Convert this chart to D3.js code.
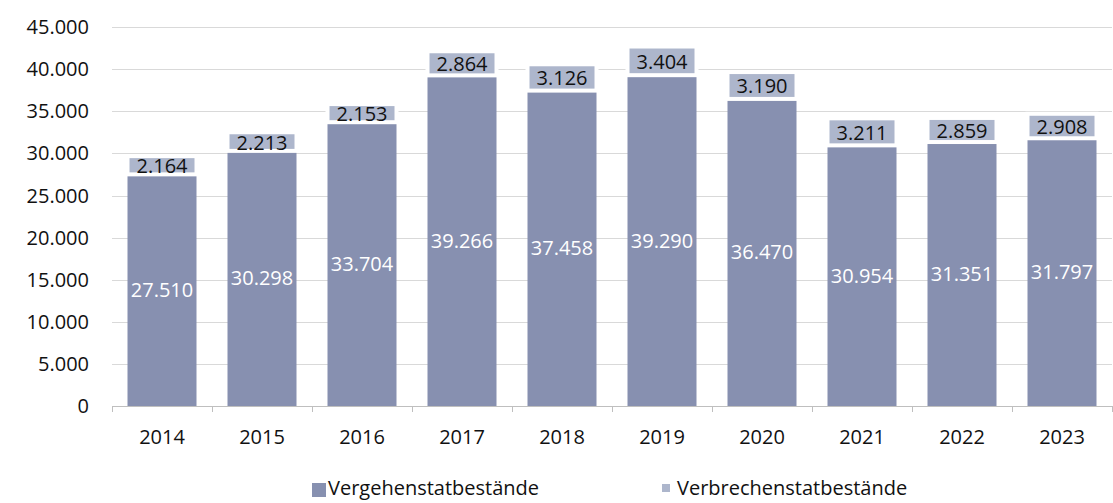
<!DOCTYPE html>
<html>
<head>
<meta charset="utf-8">
<script src="https://cdn.jsdelivr.net/npm/d3@7"></script>
<style>
  html, body { margin: 0; padding: 0; background: #fff; }
  svg { display: block; font-family: "Open Sans", "Noto Sans", sans-serif; }
</style>
</head>
<body>
<svg id="chart" width="1113" height="503"></svg>
<script>
const years = ["2014","2015","2016","2017","2018","2019","2020","2021","2022","2023"];
const vergehen = [27510, 30298, 33704, 39266, 37458, 39290, 36470, 30954, 31351, 31797];
const verbrechen = [2164, 2213, 2153, 2864, 3126, 3404, 3190, 3211, 2859, 2908];
const yTicks = [0, 5000, 10000, 15000, 20000, 25000, 30000, 35000, 40000, 45000];
const seriesNames = ["Vergehenstatbestände", "Verbrechenstatbestände"];
const colors = ["#8790b0", "#adb6cc"];
const FS = 20;

const svg = d3.select("#chart");
const fmt = v => d3.format(",")(v).replace(/,/g, ".");

const x = d3.scaleBand().domain(years).range([112, 1112]).paddingInner(0.31).paddingOuter(0.155);
const y = d3.scaleLinear().domain([0, 45000]).range([406, 27.1]);

// gridlines
svg.append("g").selectAll("line").data(yTicks.slice(1)).join("line")
  .attr("x1", 112).attr("x2", 1112)
  .attr("y1", d => Math.round(y(d)) + 0.5).attr("y2", d => Math.round(y(d)) + 0.5)
  .attr("stroke", "#d9d9d9").attr("stroke-width", 1);

// y labels
svg.append("g").selectAll("text").data(yTicks).join("text")
  .attr("x", 89).attr("y", d => y(d))
  .attr("dy", "0.35em").attr("text-anchor", "end")
  .attr("font-size", FS).attr("fill", "#111")
  .text(d => fmt(d));

const data = years.map((yr, i) => ({ yr, a: vergehen[i], b: verbrechen[i] }));

// dark segments
svg.append("g").selectAll("rect").data(data).join("rect")
  .attr("x", d => x(d.yr)).attr("width", x.bandwidth())
  .attr("y", d => y(d.a)).attr("height", d => y(0) - y(d.a))
  .attr("fill", colors[0]);

// light segments
svg.append("g").selectAll("rect").data(data).join("rect")
  .attr("x", d => x(d.yr)).attr("width", x.bandwidth())
  .attr("y", d => y(d.a + d.b)).attr("height", d => y(d.a) - y(d.a + d.b))
  .attr("fill", colors[1]).attr("stroke", "#fff").attr("stroke-width", 4);

// x axis
const xAxis = svg.append("g");
xAxis.append("line").attr("x1", 112).attr("x2", 1112).attr("y1", 406.5).attr("y2", 406.5)
  .attr("stroke", "#bfbfbf").attr("stroke-width", 1);
const tickPos = years.map(yr => x(yr) - x.step() * 0.155).concat([1112]);
xAxis.selectAll("line.tick").data(tickPos).join("line").attr("class", "tick")
  .attr("x1", d => Math.round(d) + 0.5).attr("x2", d => Math.round(d) + 0.5)
  .attr("y1", 406).attr("y2", 412)
  .attr("stroke", "#bfbfbf").attr("stroke-width", 1);
xAxis.selectAll("text").data(years).join("text")
  .attr("x", d => x(d) + x.bandwidth() / 2).attr("y", 437)
  .attr("dy", "0.35em").attr("text-anchor", "middle")
  .attr("font-size", FS).attr("fill", "#111")
  .text(d => d);

// value labels
svg.append("g").selectAll("text").data(data).join("text")
  .attr("x", d => x(d.yr) + x.bandwidth() / 2)
  .attr("y", d => (y(0) + y(d.a)) / 2)
  .attr("dy", "0.35em").attr("text-anchor", "middle")
  .attr("font-size", FS).attr("fill", "#ffffff")
  .text(d => fmt(d.a));
svg.append("g").selectAll("text").data(data).join("text")
  .attr("x", d => x(d.yr) + x.bandwidth() / 2)
  .attr("y", d => (y(d.a) + y(d.a + d.b)) / 2 + 1)
  .attr("dy", "0.35em").attr("text-anchor", "middle")
  .attr("font-size", FS).attr("fill", "#111")
  .text(d => fmt(d.b));

// legend
const lg = svg.append("g");
lg.append("rect").attr("x", 312).attr("y", 483).attr("width", 14).attr("height", 14).attr("fill", colors[0]);
lg.append("text").attr("x", 328).attr("y", 488).attr("dy", "0.35em")
  .attr("font-size", FS).attr("fill", "#111").text(seriesNames[0]);
lg.append("rect").attr("x", 660).attr("y", 482).attr("width", 12).attr("height", 12)
  .attr("fill", colors[1]).attr("stroke", "#fff").attr("stroke-width", 4);
lg.append("text").attr("x", 677).attr("y", 488).attr("dy", "0.35em")
  .attr("font-size", FS).attr("fill", "#111").text(seriesNames[1]);
</script>
</body>
</html>
